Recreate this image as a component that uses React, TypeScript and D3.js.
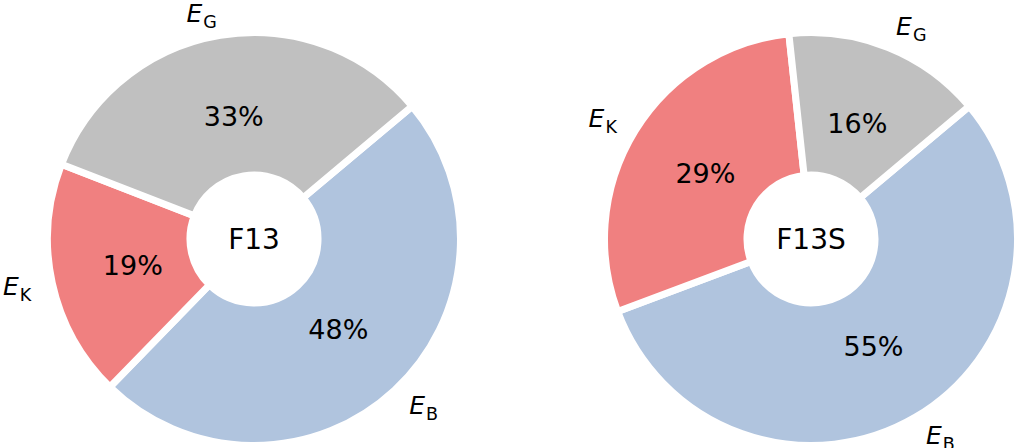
import React, { useEffect, useRef } from 'react';
import * as d3 from 'd3';

// energy components, drawn clockwise starting at the upper right
const components = ['B', 'K', 'G'];
const componentColors = ['#b0c4de', '#f08080', '#c0c0c0'];

// percentages
const f13Values = [48.4, 18.6, 33.0];
const f13sValues = [55.4, 29.0, 15.6];

const panels = [
  { title: 'F13', values: f13Values },
  { title: 'F13S', values: f13sValues },
];

const WIDTH = 1015;
const HEIGHT = 448;

export default function App() {
  const svgRef = useRef<SVGSVGElement>(null);

  useEffect(() => {
    if (!svgRef.current) return;
    const svg = d3.select(svgRef.current);
    svg.selectAll('*').remove();

    const outerR = 206.5;
    const innerR = 64;
    const pctR = 124;
    const labelR = 228;
    const start = (50 * Math.PI) / 180;

    const cx = d3.scalePoint<string>()
      .domain(panels.map(p => p.title))
      .range([254, 811]);

    const pie = d3.pie<number>()
      .sort(null)
      .value(d => d)
      .startAngle(start)
      .endAngle(start + 2 * Math.PI);

    const arc = d3.arc<d3.PieArcDatum<number>>()
      .innerRadius(innerR)
      .outerRadius(outerR);

    panels.forEach(panel => {
      const g = svg.append('g')
        .attr('transform', `translate(${cx(panel.title)},239)`);

      const arcs = pie(panel.values);

      g.selectAll('path.wedge')
        .data(arcs)
        .join('path')
        .attr('class', 'wedge')
        .attr('d', arc)
        .attr('fill', (_, i) => componentColors[i])
        .attr('stroke', '#fff')
        .attr('stroke-width', 7)
        .attr('stroke-linejoin', 'miter');

      const mid = (d: d3.PieArcDatum<number>) => (d.startAngle + d.endAngle) / 2;

      // percentages
      g.selectAll('text.pct')
        .data(arcs)
        .join('text')
        .attr('class', 'pct')
        .attr('x', d => Math.sin(mid(d)) * pctR)
        .attr('y', d => -Math.cos(mid(d)) * pctR)
        .attr('text-anchor', 'middle')
        .attr('dominant-baseline', 'central')
        .style('font-family', 'DejaVu Sans, sans-serif')
        .style('font-size', '27px')
        .style('fill', '#000')
        .text(d => `${Math.round(d.data)}%`);

      // E_x labels outside
      const labels = g.selectAll('text.lbl')
        .data(arcs)
        .join('text')
        .attr('class', 'lbl')
        .attr('x', d => Math.sin(mid(d)) * labelR)
        .attr('y', d => -Math.cos(mid(d)) * labelR + 8)
        .attr('text-anchor', d => (Math.sin(mid(d)) < 0 ? 'end' : 'start'))
        .style('font-family', 'DejaVu Sans, sans-serif')
        .style('font-size', '25px')
        .style('fill', '#000');

      labels.append('tspan')
        .style('font-style', 'italic')
        .text('E');
      labels.append('tspan')
        .attr('dx', 1)
        .attr('dy', 6)
        .style('font-size', '17.5px')
        .text((_, i) => components[i]);

      // centre title
      g.append('text')
        .attr('text-anchor', 'middle')
        .attr('dominant-baseline', 'central')
        .style('font-family', 'DejaVu Sans, sans-serif')
        .style('font-size', '28px')
        .style('fill', '#000')
        .text(panel.title);
    });
  }, []);

  return (
    <div style={{ position: 'absolute', left: 0, top: 0, background: '#fff' }}>
      <svg ref={svgRef} width={WIDTH} height={HEIGHT} style={{ display: 'block' }} />
    </div>
  );
}
